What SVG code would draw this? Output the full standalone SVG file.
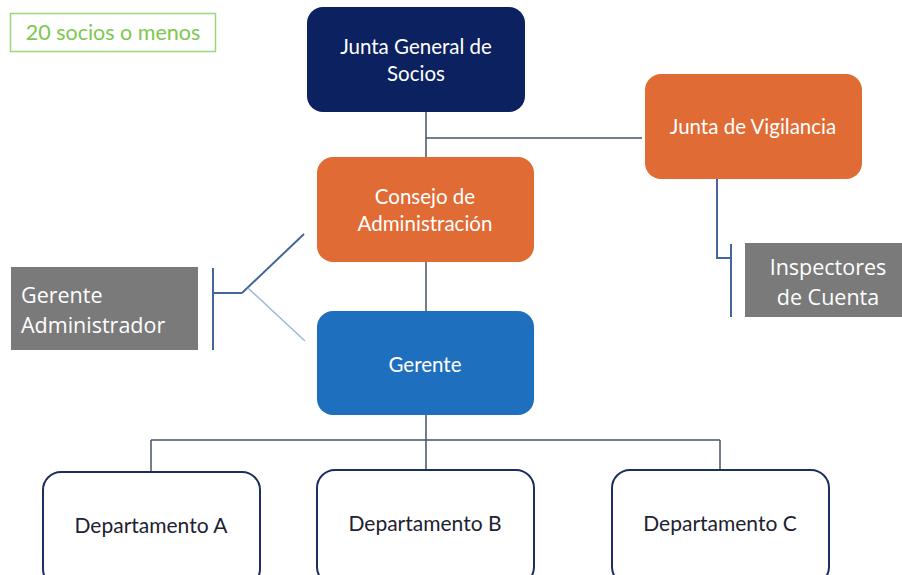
<svg xmlns="http://www.w3.org/2000/svg" width="902" height="575" viewBox="0 0 902 575">
<style>
.t{font-family:Lato,"Open Sans","Liberation Sans",sans-serif;font-size:20.5px;fill:#fff;text-anchor:middle}
.d{fill:#1d2230;font-size:21px}
.g{font-family:"Open Sans","Liberation Sans",sans-serif;font-size:21.5px;fill:#fff}
.navy{fill:#0b2160}
.org{fill:#e06b35}
.blue{fill:#1f6fbf}
.gray{fill:#7a7a7a}
.dept{fill:#fff;stroke:#1c2e5e;stroke-width:2}
.ln{stroke:#44546a;stroke-width:1.5;fill:none}
</style>
<rect width="902" height="575" fill="#fff"/>
<g id="nota">
<rect x="10.5" y="13.5" width="205" height="38" fill="#fff" stroke="#9ad67a" stroke-width="1.5"/>
<text x="113" y="40" style="font-family:Lato,'Open Sans',sans-serif;font-size:21.5px;fill:#7cc84e;text-anchor:middle">20 socios o menos</text>
</g>
<g id="connectors">
<path class="ln" d="M426 112V157M426 138H642M426 262V311M426 415V440M151 440H720M151 440V471M426 440V469M720 440V469"/>
<path d="M213 268V350M213 293H242" stroke="#44679a" stroke-width="2" fill="none"/>
<path d="M242 293L304 234" stroke="#44679a" stroke-width="2" fill="none"/>
<path d="M248 288L305 341" stroke="#9bb8dc" stroke-width="1.5" fill="none"/>
<path d="M717 179V258H731M731 244V317" stroke="#44679a" stroke-width="2" fill="none"/>
</g>
<g id="junta-general">
<rect class="navy" x="307" y="7" width="218" height="105" rx="16"/>
<text class="t" x="416" y="54">Junta General de</text>
<text class="t" x="416" y="81">Socios</text>
</g>
<g id="junta-vigilancia">
<rect class="org" x="645" y="74" width="217" height="105" rx="16"/>
<text class="t" x="753" y="134">Junta de Vigilancia</text>
</g>
<g id="consejo">
<rect class="org" x="317" y="157" width="217" height="105" rx="16"/>
<text class="t" x="425" y="204">Consejo de</text>
<text class="t" x="425" y="231">Administración</text>
</g>
<g id="gerente">
<rect class="blue" x="317" y="311" width="217" height="104" rx="16"/>
<text class="t" x="425" y="372">Gerente</text>
</g>
<g id="gerente-administrador">
<rect class="gray" x="11" y="267" width="187" height="83"/>
<text class="g" x="21" y="303">Gerente</text>
<text class="g" x="21" y="333">Administrador</text>
</g>
<g id="inspectores">
<rect class="gray" x="745" y="243" width="160" height="74"/>
<text class="g" x="828" y="275" text-anchor="middle">Inspectores</text>
<text class="g" x="828" y="305" text-anchor="middle">de Cuenta</text>
</g>
<g id="dept-a">
<rect class="dept" x="43" y="472" width="217" height="115" rx="18"/>
<text class="t d" x="151" y="533">Departamento A</text>
</g>
<g id="dept-b">
<rect class="dept" x="317" y="470" width="217" height="115" rx="18"/>
<text class="t d" x="425" y="531">Departamento B</text>
</g>
<g id="dept-c">
<rect class="dept" x="612" y="470" width="217" height="115" rx="18"/>
<text class="t d" x="720" y="531">Departamento C</text>
</g>
</svg>
